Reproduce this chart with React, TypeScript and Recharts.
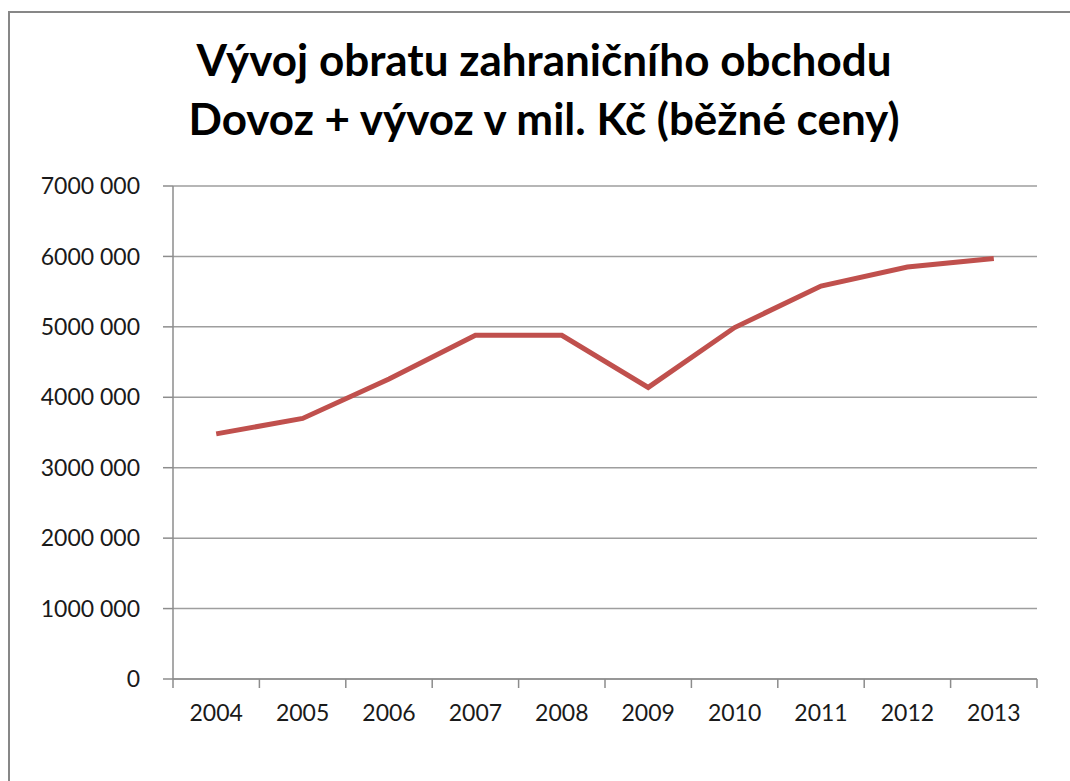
import { LineChart, Line, XAxis, YAxis, CartesianGrid } from "recharts"

const years = [2004, 2005, 2006, 2007, 2008, 2009, 2010, 2011, 2012, 2013]
const turnover = [3480000, 3700000, 4260000, 4880000, 4880000, 4140000, 4990000, 5580000, 5850000, 5970000]
const yTicks = [0, 1000000, 2000000, 3000000, 4000000, 5000000, 6000000, 7000000]
const titleLines = ["Vývoj obratu zahraničního obchodu", "Dovoz + vývoz v mil. Kč (běžné ceny)"]

const data = years.map((year, i) => ({ year, value: turnover[i] }))

const font = "Lato, 'Open Sans', sans-serif"
const axisGrey = "#8c8c8c"

function formatMoney(v: number) {
  if (v === 0) return "0"
  return `${v / 1000} 000`
}

// label under the year, plus Excel-style tick marks between categories
function YearTick(props: any) {
  const { x, y, payload, index } = props
  const half = 43.2
  const last = index === years.length - 1
  return (
    <g>
      <line x1={x - half} x2={x - half} y1={y - 26} y2={y - 17} stroke={axisGrey} strokeWidth={1.5} />
      {last && <line x1={x + half} x2={x + half} y1={y - 26} y2={y - 17} stroke={axisGrey} strokeWidth={1.5} />}
      <text x={x} y={y} dy="0.71em" textAnchor="middle" fill="#1a1a1a" fontSize={23} fontFamily={font}>
        {payload.value}
      </text>
    </g>
  )
}

export default function App() {
  return (
    <div style={{ position: "absolute", left: 0, top: 0, width: 1070, height: 781, background: "#fff", overflow: "hidden" }}>
      <div
        style={{
          position: "absolute",
          left: 8,
          top: 11,
          width: 1100,
          height: 820,
          borderLeft: "2px solid #878787",
          borderTop: "2px solid #878787",
        }}
      />
      <div
        style={{
          position: "absolute",
          left: 0,
          top: 30,
          width: 1088,
          textAlign: "center",
          fontFamily: font,
          fontWeight: 700,
          fontSize: 44,
          lineHeight: "59px",
          color: "#000",
        }}
      >
        {titleLines.map((t) => (
          <div key={t}>{t}</div>
        ))}
      </div>
      <div style={{ position: "absolute", left: 0, top: 0 }}>
        <LineChart width={1070} height={781} data={data} margin={{ top: 186, right: 33, bottom: 0, left: 0 }}>
          <CartesianGrid vertical={false} stroke="#9e9e9e" strokeWidth={1.5} />
          <XAxis
            dataKey="year"
            type="number"
            domain={[2003.5, 2013.5]}
            ticks={years}
            height={102}
            axisLine={{ stroke: axisGrey, strokeWidth: 1.5 }}
            tickLine={false}
            tickSize={9}
            tickMargin={17}
            tick={<YearTick />}
            interval={0}
          />
          <YAxis
            domain={[0, 7000000]}
            ticks={yTicks}
            width={173}
            axisLine={{ stroke: axisGrey, strokeWidth: 1.5 }}
            tickLine={{ stroke: axisGrey, strokeWidth: 1.5 }}
            tickSize={10}
            tickMargin={23}
            tickFormatter={formatMoney}
            tick={{ fill: "#1a1a1a", fontSize: 23, fontFamily: font }}
            interval={0}
          />
          <Line
            type="linear"
            dataKey="value"
            stroke="#c0504d"
            strokeWidth={5}
            dot={false}
            activeDot={false}
            isAnimationActive={false}
          />
        </LineChart>
      </div>
    </div>
  )
}
